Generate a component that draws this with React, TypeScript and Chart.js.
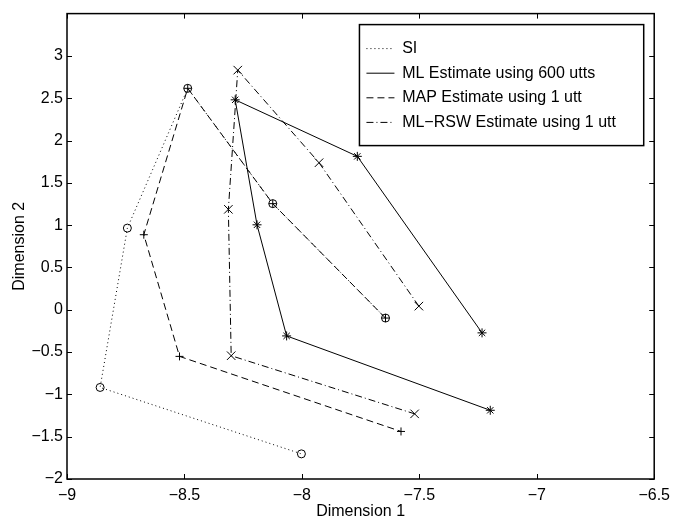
import React, { useEffect, useRef } from 'react';
import { Chart, registerables } from 'chart.js';

Chart.register(...registerables);

// ---- data ----
const seriesLabels = ['SI', 'ML Estimate using 600 utts', 'MAP Estimate using 1 utt', 'ML\u2212RSW Estimate using 1 utt'];

const siX = [-7.644, -8.124, -8.486, -8.743, -8.859, -8.002];
const siY = [-0.098, 1.254, 2.617, 0.965, -0.918, -1.703];

const mlX = [-7.233, -7.764, -8.284, -8.191, -8.065, -7.198];
const mlY = [-0.273, 1.813, 2.481, 1.004, -0.309, -1.188];

const mapX = [-7.644, -8.124, -8.486, -8.673, -8.521, -7.578];
const mapY = [-0.098, 1.254, 2.617, 0.887, -0.551, -1.438];

const rswX = [-7.502, -7.927, -8.273, -8.313, -8.301, -7.52];
const rswY = [0.043, 1.738, 2.832, 1.187, -0.543, -1.23];

const xTickValues = [-9, -8.5, -8, -7.5, -7, -6.5];
const yTickValues = [-2, -1.5, -1, -0.5, 0, 0.5, 1, 1.5, 2, 2.5, 3];

const FONT = '"Liberation Sans", Arial, Helvetica, sans-serif';

const toPts = (xs: number[], ys: number[]) => xs.map((x, i) => ({ x, y: ys[i] }));
const fmt = (v: number) => {
  if (!yTickValues.includes(v) && !xTickValues.includes(v)) return '';
  return String(v).replace('-', '\u2212');
};

const framePlugin = {
  id: 'matlabFrame',
  afterDatasetsDraw(chart: any) {
    const { ctx, chartArea } = chart;
    const { left, right, top, bottom } = chartArea;
    const xs = chart.scales.x;
    const ys = chart.scales.y;
    ctx.save();
    ctx.strokeStyle = '#000';
    ctx.setLineDash([]);
    ctx.lineWidth = 1;
    ctx.beginPath();
    const tl = 5;
    xTickValues.forEach((v) => {
      const px = Math.round(xs.getPixelForValue(v)) + 0.5;
      ctx.moveTo(px, bottom);
      ctx.lineTo(px, bottom - tl);
      ctx.moveTo(px, top);
      ctx.lineTo(px, top + tl);
    });
    yTickValues.forEach((v) => {
      const py = Math.round(ys.getPixelForValue(v)) + 0.5;
      ctx.moveTo(left, py);
      ctx.lineTo(left + tl, py);
      ctx.moveTo(right, py);
      ctx.lineTo(right - tl, py);
    });
    ctx.stroke();
    ctx.lineWidth = 1.5;
    ctx.strokeRect(left, top, right - left, bottom - top);

    // legend
    ctx.font = `16px ${FONT}`;
    const maxW = Math.max(...seriesLabels.map((t) => ctx.measureText(t).width));
    const boxRight = right - 10.5;
    const boxTop = top + 11;
    const boxW = 42.7 + maxW + 27.7;
    const boxLeft = boxRight - boxW;
    const boxH = 121;
    ctx.fillStyle = '#fff';
    ctx.fillRect(boxLeft, boxTop, boxW, boxH);
    ctx.lineWidth = 1.5;
    ctx.strokeRect(boxLeft, boxTop, boxW, boxH);
    const ds = chart.data.datasets;
    ds.forEach((d: any, i: number) => {
      const yy = boxTop + 24 + i * 24.6;
      ctx.strokeStyle = '#000';
      ctx.lineWidth = 1;
      ctx.setLineDash(d.borderDash || []);
      ctx.beginPath();
      ctx.moveTo(boxLeft + 7, yy);
      ctx.lineTo(boxLeft + 35, yy);
      ctx.stroke();
      ctx.setLineDash([]);
      ctx.fillStyle = '#000';
      ctx.textBaseline = 'middle';
      ctx.textAlign = 'left';
      ctx.fillText(d.label, boxLeft + 42.7, yy);
    });
    ctx.restore();
  },
};

export default function App() {
  const ref = useRef<HTMLCanvasElement | null>(null);
  useEffect(() => {
    document.body.style.margin = '0';
    const canvas = ref.current;
    if (!canvas) return;
    const common = {
      showLine: true,
      borderColor: '#000',
      borderWidth: 1,
      pointBorderColor: '#000',
      pointBackgroundColor: 'rgba(0,0,0,0)',
      pointBorderWidth: 1,
      fill: false,
      tension: 0,
    };
    const chart = new Chart(canvas, {
      type: 'scatter',
      data: {
        datasets: [
          { ...common, label: seriesLabels[0], data: toPts(siX, siY), borderDash: [1, 3], pointStyle: 'circle', pointRadius: 4 },
          { ...common, label: seriesLabels[1], data: toPts(mlX, mlY), borderDash: [], pointStyle: 'star', pointRadius: 4.5 },
          { ...common, label: seriesLabels[2], data: toPts(mapX, mapY), borderDash: [7, 4], pointStyle: 'cross', pointRadius: 4 },
          { ...common, label: seriesLabels[3], data: toPts(rswX, rswY), borderDash: [7, 3, 1, 3], pointStyle: 'crossRot', pointRadius: 6 },
        ],
      },
      options: {
        responsive: false,
        animation: false,
        devicePixelRatio: 1,
        events: [],
        layout: { padding: { top: 10, right: 16, left: 0, bottom: 0 } },
        plugins: { legend: { display: false }, tooltip: { enabled: false } },
        scales: {
          x: {
            type: 'linear',
            min: -9,
            max: -6.5,
            grid: { display: false, drawTicks: false },
            border: { display: false },
            ticks: {
              stepSize: 0.5,
              padding: 7,
              color: '#000',
              autoSkip: false,
              maxRotation: 0,
              font: { size: 16, family: FONT },
              callback: (v: any) => fmt(Number(v)),
            },
            title: { display: true, text: 'Dimension 1', color: '#000', font: { size: 16, family: FONT }, padding: { top: 0, bottom: 4 } },
            afterFit: (s: any) => { s.height = 46; },
          },
          y: {
            type: 'linear',
            min: -2,
            max: 3.5,
            grid: { display: false, drawTicks: false },
            border: { display: false },
            ticks: {
              stepSize: 0.5,
              padding: 4,
              color: '#000',
              autoSkip: false,
              font: { size: 16, family: FONT },
              callback: (v: any) => fmt(Number(v)),
            },
            title: { display: true, text: 'Dimension 2', color: '#000', font: { size: 16, family: FONT }, padding: { top: 10, bottom: 0 } },
            afterFit: (s: any) => { s.width = 67; },
          },
        },
      },
      plugins: [framePlugin],
    } as any);
    return () => chart.destroy();
  }, []);
  return <canvas ref={ref} width={677} height={525} style={{ display: 'block', width: 677, height: 525 }} />;
}
